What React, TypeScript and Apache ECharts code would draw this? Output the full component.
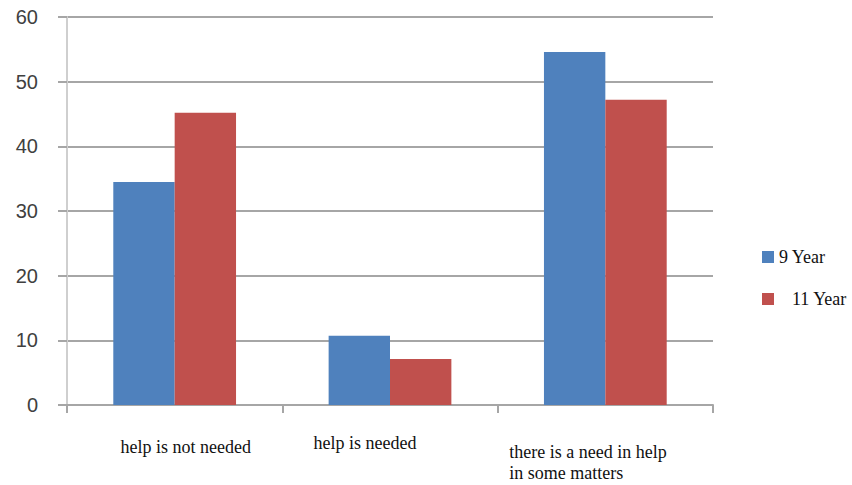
import React, { useEffect, useRef } from "react";
import * as echarts from "echarts";

const categories = ["help is not needed", "help is needed", "there is a need in help in some matters"];
const seriesNames = ["9 Year", "11 Year"];
const year9 = [34.5, 10.7, 54.6];
const year11 = [45.2, 7.1, 47.2];
const yTicks = { min: 0, max: 60, interval: 10 };

const SERIF = "'Liberation Serif', 'Times New Roman', serif";

export default function App() {
  const ref = useRef<HTMLDivElement>(null);
  useEffect(() => {
    if (!ref.current) return;
    const chart = echarts.init(ref.current, undefined, { renderer: "svg" });
    chart.setOption({
      animation: false,
      backgroundColor: "#ffffff",
      grid: { left: 67, right: 139, top: 17, bottom: 80, containLabel: false },
      legend: {
        orient: "vertical",
        left: 757,
        top: 243,
        itemWidth: 12,
        itemHeight: 12,
        itemGap: 24,
        icon: "rect",
        data: seriesNames,
        formatter: (name: string) => (name === "11 Year" ? `{p|${name}}` : `{q|${name}}`),
        textStyle: {
          fontFamily: SERIF,
          fontSize: 18,
          color: "#111",
          rich: {
            p: { fontFamily: SERIF, fontSize: 18, color: "#111", padding: [0, 0, 0, 13] },
            q: { fontFamily: SERIF, fontSize: 18, color: "#111" },
          },
        },
      },
      xAxis: {
        type: "category",
        data: categories,
        axisLine: { show: true, lineStyle: { color: "#a6a6a6", width: 2 } },
        axisTick: { show: true, length: 8, alignWithLabel: false, lineStyle: { color: "#a6a6a6", width: 2 } },
        axisLabel: {
          interval: 0,
          margin: 29,
          verticalAlign: "top",
          fontFamily: SERIF,
          fontSize: 18,
          color: "#111",
          formatter: (v: string, i: number) => {
            if (i === 0) return `{a|${v}}`;
            if (i === 1) return `{b|${v}}`;
            const words = v.split(" ");
            const first = words.slice(0, 6).join(" ");
            const second = words.slice(6).join(" ");
            return `{c|${first}}\n{d|${second}}`;
          },
          rich: {
            a: { fontFamily: SERIF, fontSize: 18, color: "#111", padding: [4, 0, 0, 22] },
            b: { fontFamily: SERIF, fontSize: 18, color: "#111", padding: [0, 50, 0, 0] },
            c: { fontFamily: SERIF, fontSize: 18, color: "#111", width: 192, align: "left", lineHeight: 36 },
            d: { fontFamily: SERIF, fontSize: 18, color: "#111", width: 192, align: "left", lineHeight: 6 },
          },
        },
        splitLine: { show: false },
      },
      yAxis: {
        type: "value",
        min: yTicks.min,
        max: yTicks.max,
        interval: yTicks.interval,
        axisLine: { show: true, lineStyle: { color: "#cfcfcf", width: 2 } },
        axisTick: { show: true, length: 9, lineStyle: { color: "#a6a6a6", width: 2 } },
        axisLabel: {
          margin: 29,
          fontFamily: "'Liberation Sans', Arial, sans-serif",
          fontSize: 20,
          color: "#404040",
        },
        splitLine: { show: true, lineStyle: { color: "#a6a6a6", width: 2 } },
      },
      series: [
        {
          name: seriesNames[0],
          type: "bar",
          data: year9,
          barGap: "0%",
          barCategoryGap: "43%",
          itemStyle: { color: "#4f81bd" },
        },
        {
          name: seriesNames[1],
          type: "bar",
          data: year11,
          barGap: "0%",
          barCategoryGap: "43%",
          itemStyle: { color: "#c0504d" },
        },
      ],
    });
    return () => chart.dispose();
  }, []);
  return (
    <div
      ref={ref}
      style={{ position: "fixed", left: 0, top: 0, width: 852, height: 485, background: "#fff" }}
    />
  );
}
